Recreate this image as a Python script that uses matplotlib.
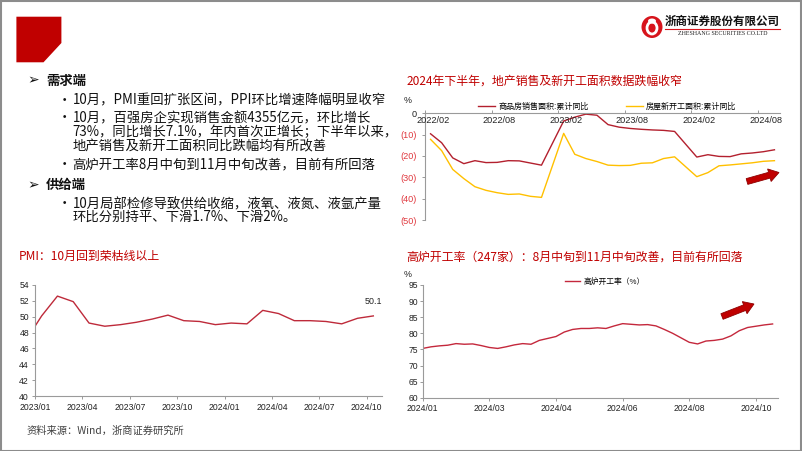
import matplotlib
matplotlib.use('Agg')
import matplotlib.pyplot as plt
from matplotlib.patches import Polygon, Ellipse, FancyArrow, Rectangle
from matplotlib.transforms import IdentityTransform
from matplotlib.lines import Line2D

# ---------------- data ----------------
pmi_months = ['2022/12', '2023/01', '2023/02', '2023/03', '2023/04', '2023/05', '2023/06',
              '2023/07', '2023/08', '2023/09', '2023/10', '2023/11', '2023/12', '2024/01',
              '2024/02', '2024/03', '2024/04', '2024/05', '2024/06', '2024/07', '2024/08',
              '2024/09', '2024/10']
pmi_values = [47.0, 50.1, 52.6, 51.9, 49.2, 48.8, 49.0, 49.3, 49.7, 50.2, 49.5, 49.4, 49.0,
              49.2, 49.1, 50.8, 50.4, 49.5, 49.5, 49.4, 49.1, 49.8, 50.1]
pmi_ticklabels = ['2023/01', '2023/04', '2023/07', '2023/10', '2024/01', '2024/04',
                  '2024/07', '2024/10']

re_months = ['2022/02', '2022/03', '2022/04', '2022/05', '2022/06', '2022/07', '2022/08',
             '2022/09', '2022/10', '2022/11', '2022/12',
             '2023/02', '2023/03', '2023/04', '2023/05', '2023/06', '2023/07', '2023/08',
             '2023/09', '2023/10', '2023/11', '2023/12',
             '2024/02', '2024/03', '2024/04', '2024/05', '2024/06', '2024/07', '2024/08',
             '2024/09']
sales_area_yoy = [-9.6, -13.8, -20.9, -23.6, -22.2, -23.1, -23.0, -22.2, -22.3, -23.3, -24.3,
                  -3.6, -1.8, -0.4, -0.9, -5.3, -6.5, -7.1, -7.5, -7.8, -8.0, -8.5,
                  -20.5, -19.4, -20.2, -20.3, -19.0, -18.6, -18.0, -17.1]
new_start_yoy = [-12.2, -17.5, -26.3, -30.6, -34.4, -36.1, -37.2, -38.0, -37.8, -38.9, -39.4,
                 -9.4, -19.2, -21.2, -22.6, -24.3, -24.5, -24.4, -23.4, -23.2, -21.2, -20.4,
                 -29.7, -27.8, -24.6, -24.2, -23.7, -23.2, -22.5, -22.2]
re_ticklabels = ['2022/02', '2022/08', '2023/02', '2023/08', '2024/02', '2024/08']
re_series_names = ['商品房销售面积:累计同比', '房屋新开工面积:累计同比']
re_yticks = [0, -10, -20, -30, -40, -50]

bf_week = list(range(43))
bf_rate = [75.3, 75.8, 76.1, 76.3, 76.8, 76.6, 76.7, 76.2, 75.6, 75.3, 75.8, 76.4, 76.8,
           76.6, 77.8, 78.4, 79.0, 80.4, 81.2, 81.5, 81.5, 81.7, 81.5, 82.3, 83.0, 82.8,
           82.6, 82.7, 82.3, 81.2, 80.0, 78.6, 77.2, 76.7, 77.6, 77.8, 78.2, 79.2, 80.8,
           81.8, 82.2, 82.6, 82.9]
bf_tick_weeks = [0, 8, 16, 24, 32, 40]
bf_ticklabels = ['2024/01', '2024/03', '2024/04', '2024/06', '2024/08', '2024/10']
bf_name = '高炉开工率（%）'

# ---------------- figure ----------------
W, H = 802, 451
CJK = ['Noto Sans CJK SC', 'DejaVu Sans']
plt.rcParams['font.family'] = CJK
fig = plt.figure(figsize=(W / 100, H / 100), dpi=100)
fig.patch.set_facecolor('white')
ID = IdentityTransform()

RED_T = '#C00000'
TICK_FONT = ['Liberation Sans', 'DejaVu Sans']
AX_COL = '#9A9A9A'


def add_ax(x0, y0, x1, y1):
    return fig.add_axes([x0 / W, 1 - y1 / H, (x1 - x0) / W, (y1 - y0) / H])


def ftext(x, y, s, **kw):
    return fig.text(x / W, 1 - y / H, s, **kw)


def midx(s):
    y, m = s.split('/')
    return int(y) * 12 + int(m) - 1


# slide border
fig.add_artist(Rectangle((0.5, 0.5), W - 1.5, H - 1.5, transform=ID, fill=False,
                         edgecolor='#8C8C8C', lw=1.5))
# red corner block
blk = [(16.4, 16.7), (61.4, 16.7), (61.4, 43.0), (43.5, 62.3), (16.4, 62.3)]
fig.add_artist(Polygon([(x, H - y) for x, y in blk], closed=True, transform=ID,
                       facecolor='#C00000', edgecolor='none'))

# logo
fig.add_artist(Ellipse((652, H - 27), 21, 22, transform=ID, facecolor='#D7141C', edgecolor='none'))
fig.add_artist(Ellipse((652, H - 28), 10, 12, transform=ID, facecolor='none', edgecolor='white', lw=2.0))
fig.add_artist(Ellipse((652, H - 21), 8, 5, transform=ID, facecolor='white', edgecolor='none'))
ftext(722.5, 21.5, '浙商证券股份有限公司', fontsize=8.3, fontweight='bold', ha='center',
      va='center', color='#111111')
fig.add_artist(Line2D([665, 780], [H - 28.5, H - 28.5], transform=ID, color='#D7141C', lw=0.8))
ftext(722.5, 33.8, 'ZHESHANG SECURITIES CO.LTD', fontsize=4.3, ha='center', va='center',
      family=['Liberation Serif', 'DejaVu Serif'], color='#222222')

# ---------------- left text block ----------------
TXT = 9.6
ftext(27.5, 80.7, '➢', fontsize=10, va='center', family=['DejaVu Sans'], color='#111111')
ftext(46.0, 80.7, '需求端', fontsize=TXT, fontweight='bold', va='center', color='#111111')
ftext(27.5, 185.0, '➢', fontsize=10, va='center', family=['DejaVu Sans'], color='#111111')
ftext(46.0, 185.0, '供给端', fontsize=TXT, fontweight='bold', va='center', color='#111111')

bullets = [
    (100.7, True, '10月，PMI重回扩张区间，PPI环比增速降幅明显收窄'),
    (118.3, True, '10月，百强房企实现销售金额4355亿元，环比增长'),
    (132.0, False, '73%，同比增长7.1%，年内首次正增长；下半年以来，'),
    (146.0, False, '地产销售及新开工面积同比跌幅均有所改善'),
    (165.0, True, '高炉开工率8月中旬到11月中旬改善，目前有所回落'),
    (204.0, True, '10月局部检修导致供给收缩，液氧、液氮、液氩产量'),
    (217.0, False, '环比分别持平、下滑1.7%、下滑2%。'),
]
for y, has_dot, s in bullets:
    if has_dot:
        ftext(57.5, y, '•', fontsize=TXT, va='center', color='#111111')
    ftext(72.7, y, s, fontsize=TXT, va='center', color='#111111')

# titles
ftext(407, 80.7, '2024年下半年，地产销售及新开工面积数据跌幅收窄', fontsize=8.6,
      va='center', color=RED_T)
ftext(18.3, 256.7, 'PMI：10月回到荣枯线以上', fontsize=8.6, va='center', color=RED_T)
ftext(406.7, 256.7, '高炉开工率（247家）：8月中旬到11月中旬改善，目前有所回落', fontsize=8.6,
      va='center', color=RED_T)
ftext(26.7, 431, '资料来源：Wind，浙商证券研究所', fontsize=7.4, va='center', color='#404040')


def style_axes(ax):
    for sp in ax.spines.values():
        sp.set_visible(False)
    ax.set_facecolor('none')
    ax.tick_params(colors='#222222', labelsize=6, width=0.7)


# ---------------- PMI chart ----------------
ax1 = add_ax(35, 285, 382, 396)
style_axes(ax1)
base = midx('2023/01')
px_ = [midx(m) - base for m in pmi_months]
ax1.plot(px_, pmi_values, color='#BE2A3A', lw=1.0, solid_joinstyle='round')
ax1.set_xlim(-0.42, 21.55)
ax1.set_ylim(40, 54)
ax1.spines['left'].set_visible(True)
ax1.spines['bottom'].set_visible(True)
ax1.spines['left'].set_color(AX_COL)
ax1.spines['bottom'].set_color(AX_COL)
ax1.set_yticks(list(range(40, 55, 2)))
ax1.set_xticks([midx(t) - base - 0.42 for t in pmi_ticklabels])
ax1.set_xticklabels(pmi_ticklabels)
ax1.tick_params(axis='both', direction='out', length=2.3, color=AX_COL, labelsize=6.2)
ax1.tick_params(axis='x', pad=2.5)
ax1.tick_params(axis='y', pad=2.0)
for lab in ax1.get_xticklabels() + ax1.get_yticklabels():
    lab.set_family(TICK_FONT)
ax1.annotate(f'{pmi_values[-1]:.1f}', (px_[-1], pmi_values[-1]), xytext=(0, 7),
             textcoords='offset points', ha='center', va='bottom', fontsize=6.4,
             family=TICK_FONT, color='#222222')

# ---------------- real estate chart ----------------
ax2 = add_ax(425, 113.3, 780, 220)
style_axes(ax2)
rbase = midx('2022/02')
rx = [midx(m) - rbase for m in re_months]
l1, = ax2.plot(rx, sales_area_yoy, color='#B3202E', lw=1.0)
l2, = ax2.plot(rx, new_start_yoy, color='#FFC000', lw=1.0)
ax2.set_xlim(-0.5, 31.5)
ax2.set_ylim(-50, 0)
ax2.spines['left'].set_visible(True)
ax2.spines['top'].set_visible(True)
ax2.spines['left'].set_color(AX_COL)
ax2.spines['top'].set_color(AX_COL)
ax2.xaxis.set_ticks_position('top')
ax2.set_xticks([midx(t) - rbase - 0.5 for t in re_ticklabels])
ax2.tick_params(axis='x', direction='out', length=2.3, color=AX_COL, labeltop=False,
                labelbottom=False)
for t in re_ticklabels:
    ax2.text(midx(t) - rbase + 0.2, -1.2, t, ha='center', va='top', fontsize=6.6,
             family=TICK_FONT, color='#222222')
ax2.set_yticks(re_yticks)
ylabs = ax2.set_yticklabels(['0' if v == 0 else f'({abs(v)})' for v in re_yticks])
for lab, v in zip(ylabs, re_yticks):
    lab.set_color('#222222' if v == 0 else '#E0383E')
    lab.set_family(TICK_FONT)
ax2.tick_params(axis='y', direction='out', length=2.3, color=AX_COL, labelsize=6.6, pad=3.5)
ax2.legend([l1, l2], re_series_names, loc='center', bbox_to_anchor=(0.514, 1.066), ncol=2,
           frameon=False, fontsize=5.8, handlelength=2.1, handletextpad=0.4,
           columnspacing=4.6, borderaxespad=0, borderpad=0)
ftext(403.5, 101, '%', fontsize=6.4, va='center', family=TICK_FONT, color='#222222')

# ---------------- blast furnace chart ----------------
ax3 = add_ax(422.7, 285, 778, 397.7)
style_axes(ax3)
l3, = ax3.plot(bf_week, bf_rate, color='#C4283C', lw=1.0)
ax3.set_xlim(0, 42.65)
ax3.set_ylim(60, 95)
ax3.spines['left'].set_visible(True)
ax3.spines['bottom'].set_visible(True)
ax3.spines['left'].set_color(AX_COL)
ax3.spines['bottom'].set_color(AX_COL)
ax3.set_yticks(list(range(60, 96, 5)))
ax3.set_xticks(bf_tick_weeks)
ax3.set_xticklabels(bf_ticklabels)
ax3.tick_params(axis='both', direction='out', length=2.0, color=AX_COL, labelsize=6.2)
ax3.tick_params(axis='x', pad=2.5)
ax3.tick_params(axis='y', pad=1.5)
for lab in ax3.get_xticklabels() + ax3.get_yticklabels():
    lab.set_family(TICK_FONT)
ax3.legend([l3], [bf_name], loc='center', bbox_to_anchor=(0.513, 1.03), frameon=False,
           fontsize=5.6, handlelength=1.9, handletextpad=0.4, borderaxespad=0, borderpad=0)
ftext(403.5, 274.5, '%', fontsize=6.4, va='center', family=TICK_FONT, color='#222222')

# ---------------- decorative arrows ----------------
def block_arrow(x0, y0, x1, y1):
    fig.add_artist(FancyArrow(x0, H - y0, x1 - x0, -(y1 - y0), width=6, head_width=13,
                              head_length=10, length_includes_head=True, transform=ID,
                              facecolor='#C00000', edgecolor='#8E0000', lw=0.6))

block_arrow(747, 181.5, 779, 172.5)
block_arrow(722, 316.5, 754, 304.0)

fig.savefig('out.png', dpi=100)
